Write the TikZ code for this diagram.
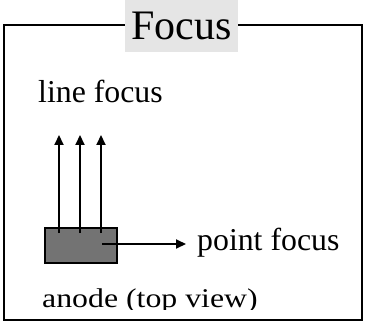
\documentclass[tikz,border=0pt]{standalone}
\usepackage{fontspec}
\setmainfont{Liberation Serif}
\usetikzlibrary{arrows.meta}
\begin{document}
\begin{tikzpicture}[x=1pt,y=-1pt,
  frame/.style={draw=black,line width=2.6pt},
  txt/.style={inner sep=0pt,anchor=base west,font=\fontsize{31.8}{36}\selectfont},
  arr/.style={line width=2.1pt,-{Triangle[length=10pt,width=9pt]}}]
\useasboundingbox (0,0) rectangle (366,323);
\draw[frame] (4,25) rectangle (362,320);
\node[fill=black!10,minimum width=113pt,minimum height=52pt,inner sep=0pt,anchor=north west] (titlebox) at (125,0) {};
\node[inner sep=0pt,anchor=base,font=\fontsize{42}{48}\selectfont] (title) at (titlebox.center |- 0,40) {Focus};
\node[txt] (line) at (38,103) {line focus};
\node[draw=black,line width=2pt,fill=black!55,minimum width=72pt,minimum height=35pt,inner sep=0pt,anchor=north west] (anode) at (44,227) {};
\coordinate (s1) at (59,233);
\coordinate (s2) at (80,233);
\coordinate (s3) at (101,233);
\coordinate (e1) at (59,135);
\coordinate (e2) at (80,135);
\coordinate (e3) at (101,135);
\coordinate (hs) at (102,244);
\coordinate (he) at (186,244);
\draw[arr] (s1) -- (e1);
\draw[arr] (s2) -- (e2);
\draw[arr] (s3) -- (e3);
\draw[arr] (hs) -- (he);
\node[txt] (point) at (197,250) {point focus};
\begin{scope}
\clip (0,0) rectangle (366,309.5);
\node[txt] (anodetxt) at (42,307) {\scalebox{1}[0.85]{anode (top view)}};
\end{scope}
\end{tikzpicture}
\end{document}
